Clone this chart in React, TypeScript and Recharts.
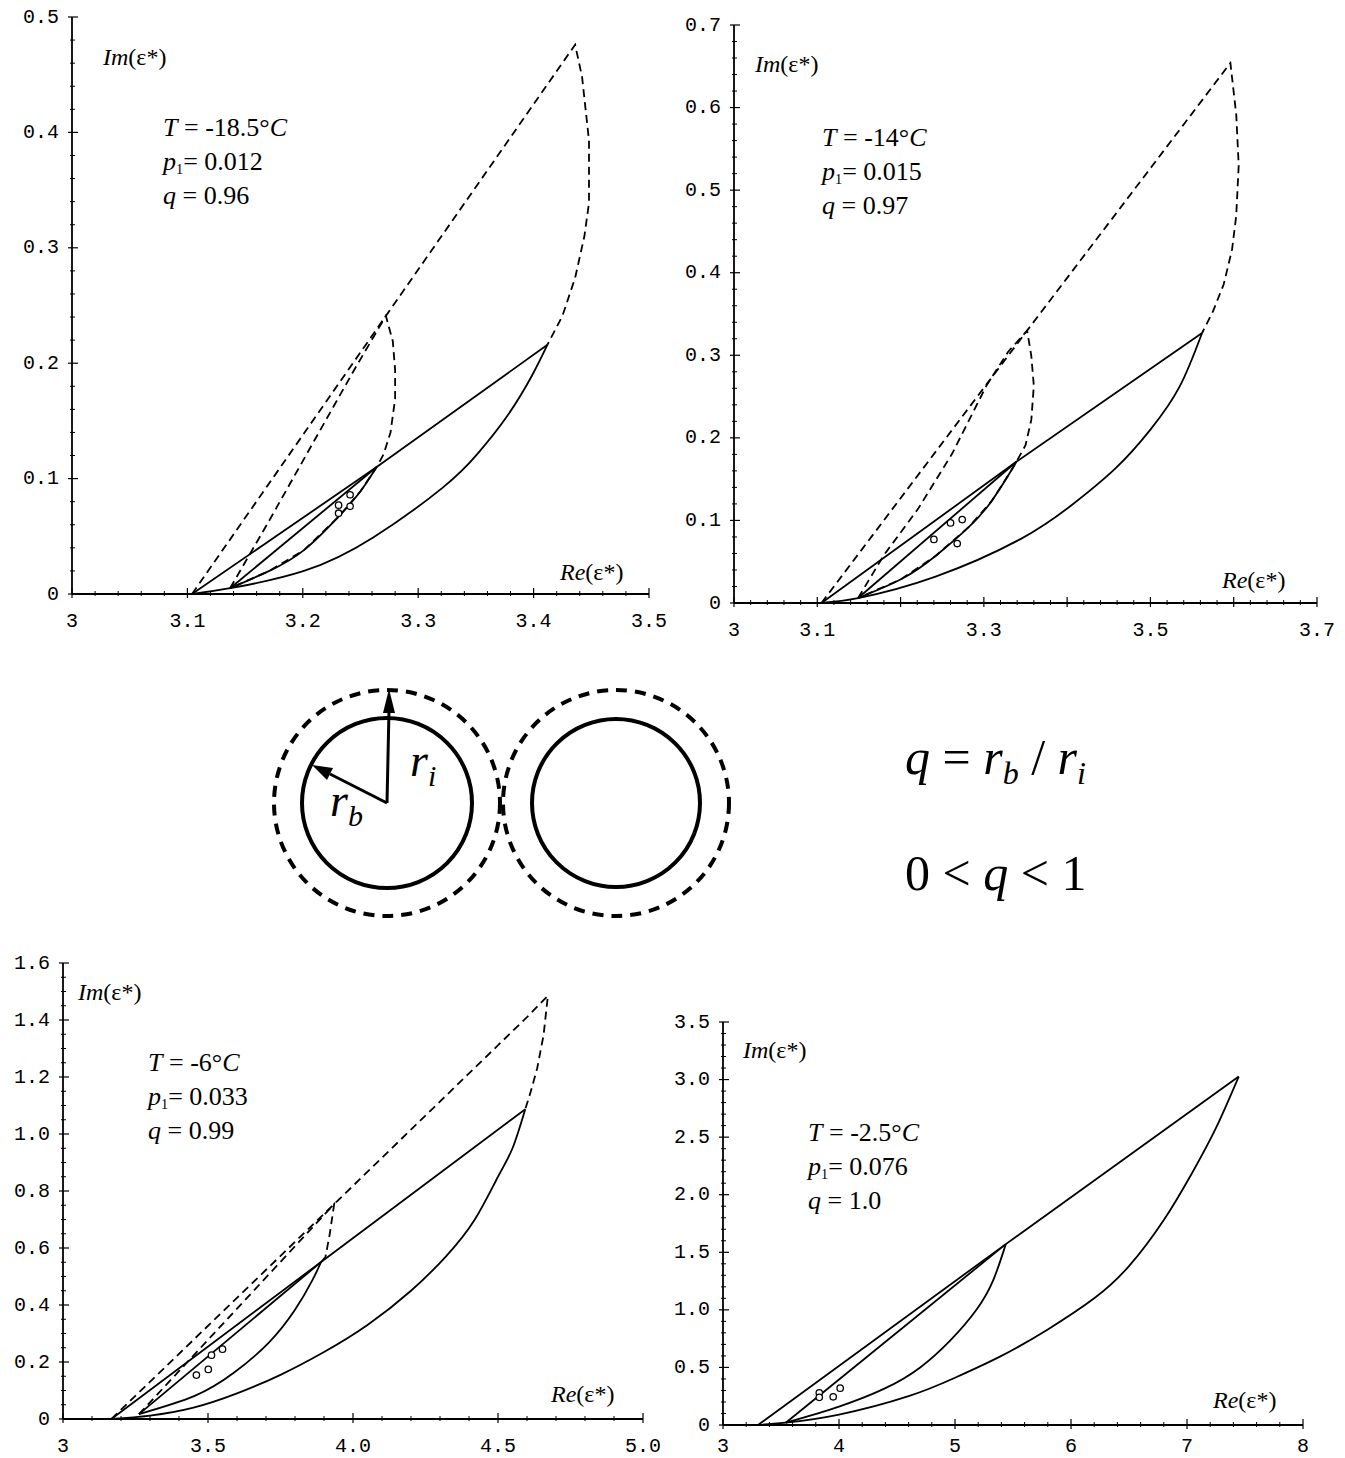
import React from 'react';
import { ComposedChart, Line, Scatter, XAxis, YAxis } from 'recharts';

type Pt = { x: number; y: number };
const P = (x: number, y: number): Pt => ({ x, y });

// ---- T = -18.5 C ----
const p18DashOuter = [P(3.104, 0), P(3.272, 0.241), P(3.436, 0.476), P(3.442, 0.448), P(3.448, 0.393), P(3.448, 0.339), P(3.444, 0.31), P(3.436, 0.274), P(3.425, 0.241), P(3.412, 0.216)];
const p18DashInner = [P(3.137, 0.005), P(3.17, 0.062), P(3.21, 0.133), P(3.245, 0.195), P(3.272, 0.241), P(3.278, 0.219), P(3.28, 0.194), P(3.28, 0.169), P(3.276, 0.14), P(3.27, 0.121), P(3.264, 0.11), P(3.25, 0.089), P(3.231, 0.067), P(3.201, 0.038), P(3.171, 0.02), P(3.137, 0.005)];
const p18SolidTop = [P(3.104, 0), P(3.264, 0.11), P(3.412, 0.216)];
const p18SolidBottom = [P(3.104, 0), P(3.137, 0.005), P(3.201, 0.02), P(3.261, 0.049), P(3.321, 0.092), P(3.351, 0.121), P(3.377, 0.154), P(3.399, 0.19), P(3.412, 0.216)];
const p18InnerTop = [P(3.137, 0.005), P(3.264, 0.11)];
const p18InnerMid = [P(3.137, 0.005), P(3.171, 0.02), P(3.201, 0.038), P(3.231, 0.067), P(3.25, 0.089), P(3.264, 0.11)];
const p18Measured = [P(3.231, 0.07), P(3.231, 0.077), P(3.241, 0.076), P(3.241, 0.086)];
const p18XTicks = [3, 3.1, 3.2, 3.3, 3.4, 3.5];
const p18XText = ['3', '3.1', '3.2', '3.3', '3.4', '3.5'];
const p18YTicks = [0, 0.1, 0.2, 0.3, 0.4, 0.5];
const p18YText = ['0', '0.1', '0.2', '0.3', '0.4', '0.5'];

// ---- T = -14 C ----
const p14DashOuter = [P(3.105, 0), P(3.352, 0.33), P(3.596, 0.654), P(3.603, 0.592), P(3.606, 0.53), P(3.603, 0.469), P(3.598, 0.428), P(3.588, 0.386), P(3.575, 0.353), P(3.562, 0.327)];
const p14DashInner = [P(3.149, 0.006), P(3.18, 0.058), P(3.221, 0.114), P(3.262, 0.181), P(3.303, 0.263), P(3.329, 0.304), P(3.352, 0.33), P(3.357, 0.299), P(3.36, 0.263), P(3.357, 0.222), P(3.35, 0.191), P(3.339, 0.171), P(3.329, 0.154), P(3.309, 0.123), P(3.283, 0.093), P(3.242, 0.057), P(3.201, 0.029), P(3.149, 0.006)];
const p14SolidTop = [P(3.105, 0), P(3.339, 0.171), P(3.562, 0.327)];
const p14SolidBottom = [P(3.105, 0), P(3.149, 0.006), P(3.242, 0.032), P(3.345, 0.078), P(3.406, 0.119), P(3.458, 0.163), P(3.5, 0.21), P(3.535, 0.262), P(3.562, 0.327)];
const p14InnerTop = [P(3.149, 0.006), P(3.339, 0.171)];
const p14InnerMid = [P(3.149, 0.006), P(3.201, 0.029), P(3.242, 0.057), P(3.283, 0.093), P(3.309, 0.123), P(3.329, 0.154), P(3.339, 0.171)];
const p14Measured = [P(3.24, 0.077), P(3.26, 0.097), P(3.274, 0.101), P(3.268, 0.072)];
const p14XTicks = [3, 3.1, 3.2, 3.3, 3.4, 3.5, 3.6, 3.7];
const p14XText = ['3', '3.1', '', '3.3', '', '3.5', '', '3.7'];
const p14YTicks = [0, 0.1, 0.2, 0.3, 0.4, 0.5, 0.6, 0.7];
const p14YText = ['0', '0.1', '0.2', '0.3', '0.4', '0.5', '0.6', '0.7'];

// ---- T = -6 C ----
const p6DashOuter = [P(3.167, 0), P(3.935, 0.754), P(4.6, 1.41), P(4.672, 1.485), P(4.657, 1.346), P(4.635, 1.23), P(4.613, 1.149), P(4.594, 1.087)];
const p6DashInner = [P(3.262, 0.017), P(3.935, 0.754), P(3.92, 0.65), P(3.905, 0.568), P(3.89, 0.551)];
const p6SolidTop = [P(3.167, 0), P(3.89, 0.551), P(4.594, 1.087)];
const p6SolidBottom = [P(3.167, 0), P(3.3, 0.012), P(3.45, 0.04), P(3.6, 0.09), P(3.75, 0.155), P(3.9, 0.235), P(4.05, 0.33), P(4.2, 0.45), P(4.32, 0.57), P(4.42, 0.7), P(4.5, 0.85), P(4.55, 0.95), P(4.594, 1.087)];
const p6InnerTop = [P(3.262, 0.017), P(3.89, 0.551)];
const p6InnerMid = [P(3.262, 0.017), P(3.454, 0.081), P(3.589, 0.162), P(3.709, 0.267), P(3.8, 0.383), P(3.86, 0.487), P(3.89, 0.551)];
const p6Measured = [P(3.46, 0.154), P(3.501, 0.174), P(3.512, 0.224), P(3.55, 0.245)];
const p6XTicks = [3, 3.5, 4, 4.5, 5];
const p6XText = ['3', '3.5', '4.0', '4.5', '5.0'];
const p6YTicks = [0, 0.2, 0.4, 0.6, 0.8, 1.0, 1.2, 1.4, 1.6];
const p6YText = ['0', '0.2', '0.4', '0.6', '0.8', '1.0', '1.2', '1.4', '1.6'];

// ---- T = -2.5 C ----
const p25SolidTop = [P(3.302, 0), P(5.438, 1.571), P(7.446, 3.026)];
const p25SolidBottom = [P(3.302, 0), P(3.541, 0.02), P(4.0, 0.09), P(4.6, 0.25), P(5.0, 0.41), P(5.4, 0.6), P(5.8, 0.83), P(6.2, 1.1), P(6.5, 1.38), P(6.8, 1.78), P(7.05, 2.2), P(7.25, 2.58), P(7.446, 3.026)];
const p25InnerTop = [P(3.541, 0.02), P(5.438, 1.571)];
const p25InnerMid = [P(3.541, 0.02), P(4.0, 0.16), P(4.4, 0.32), P(4.7, 0.5), P(4.96, 0.735), P(5.18, 0.994), P(5.328, 1.254), P(5.438, 1.571)];
const p25Measured = [P(3.83, 0.28), P(3.83, 0.24), P(3.95, 0.245), P(4.01, 0.32)];
const p25XTicks = [3, 4, 5, 6, 7, 8];
const p25XText = ['3', '4', '5', '6', '7', '8'];
const p25YTicks = [0, 0.5, 1.0, 1.5, 2.0, 2.5, 3.0, 3.5];
const p25YText = ['0', '0.5', '1.0', '1.5', '2.0', '2.5', '3.0', '3.5'];

const MONO = '"Liberation Mono", "DejaVu Sans Mono", monospace';
const SERIF = '"Liberation Serif", "DejaVu Serif", serif';

type Curve = { pts: Pt[]; dashed?: boolean; smooth?: boolean };

interface PanelProps {
  x0: number; x1: number; yTop: number; yBottom: number;
  xDomain: [number, number]; yDomain: [number, number];
  xMajor: number[]; xText: string[]; xMinor: number;
  yMajor: number[]; yText: string[]; yMinor: number;
  curves: Curve[]; dots: Pt[];
  xLabelGap?: number;
}

function allTicks([lo, hi]: [number, number], step: number) {
  const n = Math.round((hi - lo) / step);
  const out: number[] = [];
  for (let i = 0; i <= n; i++) out.push(Math.round((lo + i * step) * 1e6) / 1e6);
  return out;
}

const findMajor = (list: number[], v: number) => list.findIndex((m) => Math.abs(m - v) < 1e-6);

function Panel(p: PanelProps) {
  const mL = 70, mR = 22, mT = 12, mB = 46;
  const plotW = p.x1 - p.x0;
  const plotH = p.yBottom - p.yTop;
  const W = plotW + mL + mR;
  const H = plotH + mT + mB;
  const axisY = mT + plotH;
  const axisX = mL;
  const gap = p.xLabelGap ?? 27;

  const xTick = (props: any) => {
    const v = props.payload.value;
    const x = props.x;
    const i = findMajor(p.xMajor, v);
    if (i < 0) return <line x1={x} x2={x} y1={axisY - 3} y2={axisY + 2} stroke="#000" strokeWidth={1} />;
    return (
      <g>
        <line x1={x} x2={x} y1={axisY - 6} y2={axisY + 4} stroke="#000" strokeWidth={1.2} />
        <text x={x} y={axisY + gap} textAnchor="middle" dominantBaseline="central" fontFamily={MONO} fontSize={20} fill="#000">
          {p.xText[i]}
        </text>
      </g>
    );
  };

  const yTick = (props: any) => {
    const v = props.payload.value;
    const y = props.y;
    const i = findMajor(p.yMajor, v);
    if (i < 0) return <line x1={axisX - 2} x2={axisX + 3} y1={y} y2={y} stroke="#000" strokeWidth={1} />;
    return (
      <g>
        <line x1={axisX - 4} x2={axisX + 6} y1={y} y2={y} stroke="#000" strokeWidth={1.2} />
        <text x={axisX - 13} y={y} textAnchor="end" dominantBaseline="central" fontFamily={MONO} fontSize={20} fill="#000">
          {p.yText[i]}
        </text>
      </g>
    );
  };

  return (
    <div style={{ position: 'absolute', left: p.x0 - mL, top: p.yTop - mT }}>
      <ComposedChart width={W} height={H} margin={{ top: mT, right: mR, bottom: 0, left: 0 }}>
        <XAxis
          type="number"
          dataKey="x"
          domain={p.xDomain}
          allowDataOverflow
          ticks={allTicks(p.xDomain, p.xMinor)}
          interval={0}
          height={mB}
          tickSize={0}
          tickLine={false}
          axisLine={{ stroke: '#000', strokeWidth: 1.8 }}
          tick={xTick}
        />
        <YAxis
          type="number"
          dataKey="y"
          domain={p.yDomain}
          allowDataOverflow
          ticks={allTicks(p.yDomain, p.yMinor)}
          interval={0}
          width={mL}
          tickSize={0}
          tickLine={false}
          axisLine={{ stroke: '#000', strokeWidth: 1.8 }}
          tick={yTick}
        />
        {p.curves.map((c, i) => (
          <Line
            key={i}
            data={c.pts}
            dataKey="y"
            type={c.smooth ? 'natural' : 'linear'}
            stroke="#000"
            strokeWidth={1.8}
            strokeDasharray={c.dashed ? '8 5' : undefined}
            dot={false}
            activeDot={false}
            isAnimationActive={false}
          />
        ))}
        <Scatter
          data={p.dots}
          isAnimationActive={false}
          shape={(s: any) => <circle cx={s.cx} cy={s.cy} r={3.2} fill="#fff" stroke="#000" strokeWidth={1.3} />}
        />
      </ComposedChart>
    </div>
  );
}

const sub = (t: string) => (
  <span style={{ fontSize: '0.55em', position: 'relative', top: '0.3em' }}>{t}</span>
);

function Labels({ im, re, note, T, p1, q }: { im: [number, number]; re: [number, number]; note: [number, number]; T: string; p1: string; q: string }) {
  const fs = 26;
  const base: React.CSSProperties = { position: 'absolute', fontFamily: SERIF, color: '#000', whiteSpace: 'nowrap', lineHeight: 1 };
  return (
    <>
      <div style={{ ...base, left: im[0], top: im[1] - 12, fontSize: 24 }}>
        <i>Im</i>(ε*)
      </div>
      <div style={{ ...base, left: re[0], top: re[1] - 12, fontSize: 24 }}>
        <i>Re</i>(ε*)
      </div>
      <div style={{ ...base, left: note[0], top: note[1] - fs / 2, fontSize: fs }}>
        <i>T</i> = {T}°<i>C</i>
      </div>
      <div style={{ ...base, left: note[0], top: note[1] + 34 - fs / 2, fontSize: fs }}>
        <i>p</i>{sub('1')}= {p1}
      </div>
      <div style={{ ...base, left: note[0], top: note[1] + 68 - fs / 2, fontSize: fs }}>
        <i>q</i> = {q}
      </div>
    </>
  );
}

function Diagram() {
  // local coordinates, origin at page (250, 670)
  const dash = '11 8';
  return (
    <svg width={880} height={270} style={{ position: 'absolute', left: 250, top: 670 }}>
      <circle cx={137} cy={133} r={113} fill="none" stroke="#000" strokeWidth={4} strokeDasharray={dash} />
      <circle cx={137} cy={133} r={85} fill="none" stroke="#000" strokeWidth={4} />
      <circle cx={366} cy={133} r={113} fill="none" stroke="#000" strokeWidth={4} strokeDasharray={dash} />
      <circle cx={366} cy={133} r={84} fill="none" stroke="#000" strokeWidth={4} />
      <line x1={137} y1={133} x2={139} y2={40} stroke="#000" strokeWidth={3} />
      <polygon points="139,19 133,43 145,43" fill="#000" />
      <line x1={137} y1={133} x2={80} y2={104} stroke="#000" strokeWidth={3} />
      <polygon points="62,95 83,98 77,110" fill="#000" />
      <text x={160} y={106} fontFamily={SERIF} fontStyle="italic" fontSize={46}>
        r<tspan fontSize={30} dy={10}>i</tspan>
      </text>
      <text x={80} y={146} fontFamily={SERIF} fontStyle="italic" fontSize={46}>
        r<tspan fontSize={30} dy={10}>b</tspan>
      </text>
      <text x={655} y={104} fontFamily={SERIF} fontSize={50}>
        <tspan fontStyle="italic">q</tspan> = <tspan fontStyle="italic">r</tspan>
        <tspan fontStyle="italic" fontSize={32} dy={10}>b</tspan>
        <tspan dy={-10}> / </tspan>
        <tspan fontStyle="italic">r</tspan>
        <tspan fontStyle="italic" fontSize={32} dy={10}>i</tspan>
      </text>
      <text x={655} y={220} fontFamily={SERIF} fontSize={50}>
        0 &lt; <tspan fontStyle="italic">q</tspan> &lt; 1
      </text>
    </svg>
  );
}

export default function App() {
  return (
    <div style={{ position: 'absolute', left: 0, top: 0, width: 1345, height: 1458, overflow: 'hidden', background: '#fff' }}>
      <Panel
        x0={72} x1={649} yTop={17} yBottom={594}
        xDomain={[3, 3.5]} yDomain={[0, 0.5]}
        xMajor={p18XTicks} xText={p18XText} xMinor={0.02}
        yMajor={p18YTicks} yText={p18YText} yMinor={0.02}
        curves={[
          { pts: p18DashOuter, dashed: true },
          { pts: p18DashInner, dashed: true },
          { pts: p18SolidTop },
          { pts: p18SolidBottom, smooth: true },
          { pts: p18InnerTop },
          { pts: p18InnerMid, smooth: true },
        ]}
        dots={p18Measured}
      />
      <Panel
        x0={734} x1={1317} yTop={25} yBottom={603}
        xDomain={[3, 3.7]} yDomain={[0, 0.7]}
        xMajor={p14XTicks} xText={p14XText} xMinor={0.02}
        yMajor={p14YTicks} yText={p14YText} yMinor={0.02}
        curves={[
          { pts: p14DashOuter, dashed: true },
          { pts: p14DashInner, dashed: true },
          { pts: p14SolidTop },
          { pts: p14SolidBottom, smooth: true },
          { pts: p14InnerTop },
          { pts: p14InnerMid, smooth: true },
        ]}
        dots={p14Measured}
      />
      <Panel
        x0={63} x1={643} yTop={963} yBottom={1419}
        xDomain={[3, 5]} yDomain={[0, 1.6]}
        xMajor={p6XTicks} xText={p6XText} xMinor={0.1}
        yMajor={p6YTicks} yText={p6YText} yMinor={0.05}
        curves={[
          { pts: p6DashOuter, dashed: true },
          { pts: p6DashInner, dashed: true },
          { pts: p6SolidTop },
          { pts: p6SolidBottom, smooth: true },
          { pts: p6InnerTop },
          { pts: p6InnerMid, smooth: true },
        ]}
        dots={p6Measured}
      />
      <Panel
        x0={723} x1={1303} yTop={1022} yBottom={1425}
        xDomain={[3, 8]} yDomain={[0, 3.5]}
        xMajor={p25XTicks} xText={p25XText} xMinor={0.2}
        yMajor={p25YTicks} yText={p25YText} yMinor={0.1}
        xLabelGap={21}
        curves={[
          { pts: p25SolidTop },
          { pts: p25SolidBottom, smooth: true },
          { pts: p25InnerTop },
          { pts: p25InnerMid, smooth: true },
        ]}
        dots={p25Measured}
      />
      <Labels im={[103, 57]} re={[560, 572]} note={[163, 128]} T="-18.5" p1="0.012" q="0.96" />
      <Labels im={[755, 64]} re={[1222, 580]} note={[822, 138]} T="-14" p1="0.015" q="0.97" />
      <Labels im={[78, 992]} re={[551, 1394]} note={[148, 1063]} T="-6" p1="0.033" q="0.99" />
      <Labels im={[743, 1050]} re={[1213, 1400]} note={[808, 1133]} T="-2.5" p1="0.076" q="1.0" />
      <Diagram />
    </div>
  );
}
